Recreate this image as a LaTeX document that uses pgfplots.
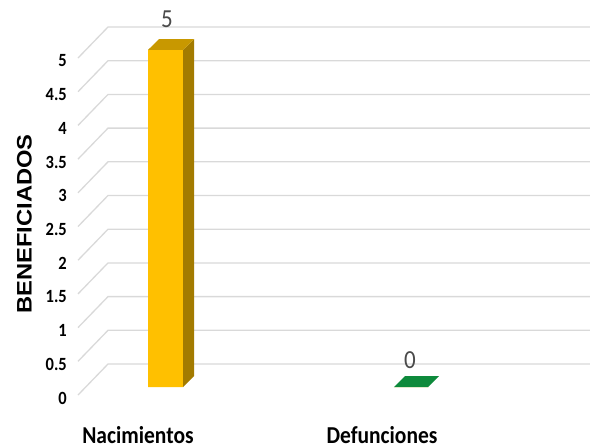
\documentclass[border=0pt]{standalone}
\usepackage{pgfplots}
\pgfplotsset{compat=1.18}
\usepackage{graphicx}
\usepackage{fontspec}
\setmainfont{Carlito}
\newfontfamily\arialfont{Liberation Sans}
\definecolor{goldF}{HTML}{FFC000}
\definecolor{goldT}{HTML}{C89800}
\definecolor{goldS}{HTML}{A37B00}
\definecolor{greenT}{HTML}{0E8A3C}
\definecolor{gridc}{HTML}{D9D9D9}
\definecolor{lblc}{HTML}{4A4A4A}
% the reference is stretched a bit vertically
\newcommand\vs[1]{\scalebox{1}[1.13]{#1}}

\begin{document}
\begin{tikzpicture}
\path[use as bounding box] (0,0) rectangle (590bp,448bp);
\begin{axis}[
  at={(0,0)}, anchor=south west,
  x=1bp, y=67.4bp,
  xmin=0, xmax=590, ymin=-0.786, ymax=5.861,
  enlargelimits=false, clip=false, no markers,
  axis line style={draw=none}, major tick style={draw=none},
  xtick=\empty,
  ytick={0,0.5,...,5},
  /pgf/number format/assume math mode=true,
  yticklabel={\vs{\pgfmathprintnumber{\tick}}},
  yticklabel style={anchor=east, inner sep=0pt, xshift=67bp, yshift=-3bp,
    font=\fontsize{16.5bp}{18bp}\selectfont\bfseries},
]
% perspective gridlines: front edge, slant to the back wall, then across
\pgfplotsinvokeforeach{0,0.5,...,5}{
  \draw[gridc, line width=1.3bp] (axis cs:78,#1) -- ++(30bp,31bp) -- ++(482bp,0bp);
}
% front faces (values 5 and 0)
\addplot[ybar, bar width=35, bar shift=0pt, fill=goldF, draw=none, yshift=8bp]
  coordinates {(165.5,5) (411,0)};
% side and top faces
\addplot[fill=goldS, draw=none] coordinates {(183,0.119) (194,0.282) (194,5.282) (183,5.119)} -- cycle;
\addplot[fill=goldT, draw=none] coordinates {(148,5.119) (183,5.119) (194,5.282) (159,5.282)} -- cycle;
\addplot[fill=greenT, draw=none] coordinates {(394,0.119) (428,0.119) (439,0.282) (405,0.282)} -- cycle;

\node[font=\fontsize{23bp}{26bp}\selectfont, text=lblc] at (axis cs:167,5.579) {\vs{5}};
\node[font=\fontsize{23bp}{26bp}\selectfont, text=lblc] at (axis cs:410,0.519) {\vs{0}};
\node[anchor=base, font=\fontsize{21.5bp}{24bp}\selectfont\bfseries] at (axis cs:138,-0.712) {\vs{Nacimientos}};
\node[anchor=base, font=\fontsize{21.5bp}{24bp}\selectfont\bfseries] at (axis cs:382,-0.712) {\vs{Defunciones}};
\node[rotate=90, font=\arialfont\fontsize{21bp}{24bp}\selectfont\bfseries] at (axis cs:24.5,2.537) {\scalebox{1.13}[1]{BENEFICIADOS}};
\end{axis}
\end{tikzpicture}
\end{document}
